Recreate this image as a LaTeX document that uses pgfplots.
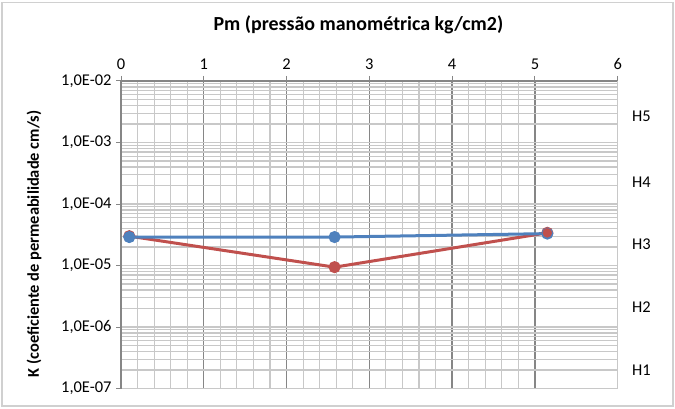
\documentclass[border=0pt]{standalone}
\usepackage{fontspec}
\setmainfont{Carlito}
\usepackage{pgfplots}
\pgfplotsset{compat=1.18}

\definecolor{serBlue}{HTML}{4F81BD}
\definecolor{serRed}{HTML}{C0504D}
\definecolor{gridMinor}{HTML}{C8C8C8}
\definecolor{gridMajor}{HTML}{868686}
\definecolor{frameGray}{HTML}{D0D0D0}

\begin{document}
\begin{tikzpicture}
\useasboundingbox (0bp,0bp) rectangle (675bp,409bp);
% chart area frame
\draw[frameGray, line width=1.5bp] (2bp,3bp) rectangle (673bp,406.5bp);
\begin{axis}[
  at={(121bp,20.5bp)}, anchor=south west,
  scale only axis, width=496.7bp, height=307.5bp,
  ymode=log,
  xmin=0, xmax=6, ymin=1e-7, ymax=1e-2,
  axis x line*=top, axis y line*=left,
  axis line style={-, draw=gridMajor, line width=1.8bp},
  xtick={0,1,2,3,4,5},
  xticklabels={0,1,2,3,4,5},
  extra x ticks={6},
  extra x tick labels={6},
  extra x tick style={major x grid style={draw=gridMinor, line width=1.1bp}},
  minor x tick num=4,
  ytick={1e-7,1e-6,1e-5,1e-4,1e-3,1e-2},
  yticklabels={{1,0E-07},{1,0E-06},{1,0E-05},{1,0E-04},{1,0E-03},{1,0E-02}},
  tick align=outside,
  major tick length=5bp,
  minor tick length=0pt,
  tick style={draw=gridMajor, line width=1bp},
  grid=both,
  minor grid style={draw=gridMinor, line width=1.1bp},
  major grid style={draw=gridMinor, line width=1.1bp},
  major x grid style={draw=gridMajor, line width=1.3bp},
  ticklabel style={font=\fontsize{16.5}{18}\selectfont, text=black},
  xticklabel style={yshift=3bp},
  yticklabel style={xshift=-1bp},
  title={Pm (pressão manométrica kg/cm2)},
  title style={font=\bfseries\fontsize{20}{22}\selectfont,
    at={(axis description cs:0.478,1)}, anchor=center, yshift=50bp},
  ylabel={K (coeficiente de permeabilidade cm/s)},
  ylabel style={font=\bfseries\fontsize{16.5}{18}\selectfont,
    at={(axis description cs:-0.175,0.47)}, anchor=center},
  clip=false,
]
% test series drawn with Excel-like line and marker styles
\addplot[serRed, line width=3bp, mark=*, mark size=4.5bp,
  mark options={solid, fill=serRed}]
  coordinates {(0.1,3.0e-5) (2.58,9.4e-6) (5.15,3.4e-5)};
\addplot[serBlue, line width=3bp, mark=*, mark size=4.5bp,
  mark options={solid, fill=serBlue}]
  coordinates {(0.1,2.9e-5) (2.58,2.9e-5) (5.15,3.3e-5)};
\addplot[serRed, only marks, mark=*, mark size=4.5bp,
  mark options={solid, fill=serRed}]
  coordinates {(5.15,3.4e-5)};
% horizon labels on the right
\node[anchor=west, font=\fontsize{16.5}{18}\selectfont, xshift=11bp] at (axis cs:6,2e-7) {H1};
\node[anchor=west, font=\fontsize{16.5}{18}\selectfont, xshift=11bp] at (axis cs:6,2.1e-6) {H2};
\node[anchor=west, font=\fontsize{16.5}{18}\selectfont, xshift=11bp] at (axis cs:6,2.2e-5) {H3};
\node[anchor=west, font=\fontsize{16.5}{18}\selectfont, xshift=11bp] at (axis cs:6,2.3e-4) {H4};
\node[anchor=west, font=\fontsize{16.5}{18}\selectfont, xshift=11bp] at (axis cs:6,2.7e-3) {H5};
\end{axis}
\end{tikzpicture}
\end{document}
